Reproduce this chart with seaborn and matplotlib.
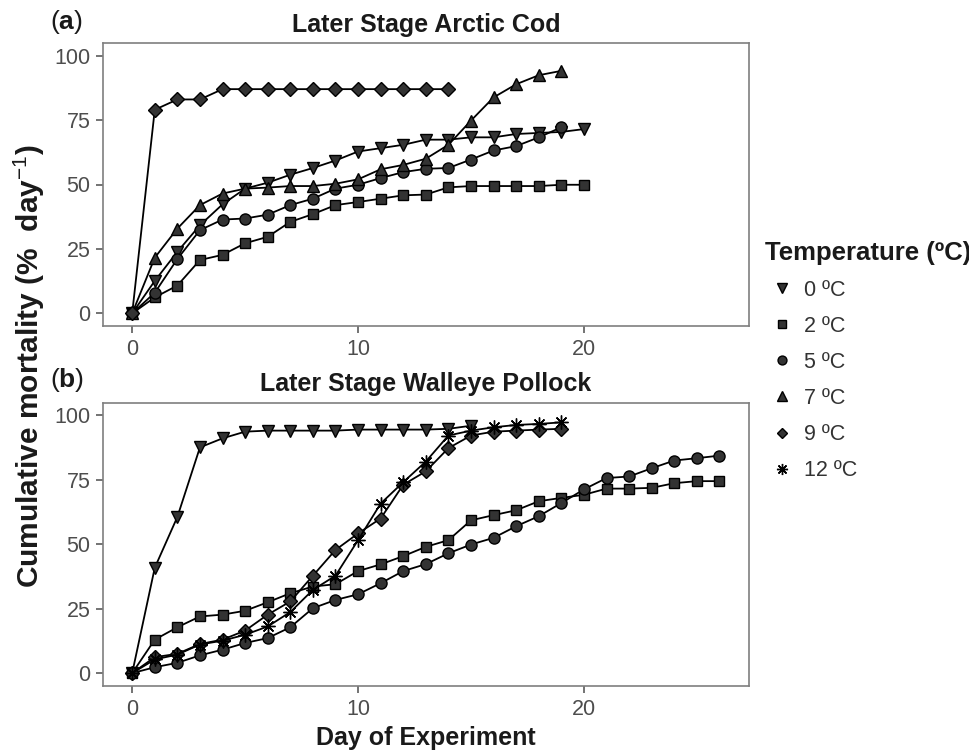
import numpy as np
import pandas as pd
import matplotlib
matplotlib.use("Agg")
import matplotlib.pyplot as plt
from matplotlib.lines import Line2D
import seaborn as sns

# cumulative mortality (%), one value per day from day 0
cod_0c = [0, 12.6, 23.9, 34.2, 42.3, 48.4, 50.7, 53.8, 56.4, 59.3, 62.8, 64.1, 65.4,
          67.4, 67.4, 68.3, 68.3, 69.6, 70.0, 70.4, 71.5]
cod_2c = [0, 6.2, 10.8, 20.7, 22.7, 27.2, 29.7, 35.5, 38.5, 42.0, 43.2, 44.5, 45.8,
          46.1, 48.9, 49.4, 49.4, 49.4, 49.4, 49.9, 49.9]
cod_5c = [0, 8.0, 21.1, 32.3, 36.4, 36.8, 38.3, 42.0, 44.5, 48.4, 49.9, 52.5, 54.8,
          56.1, 56.4, 59.7, 63.2, 64.9, 68.3, 72.2]
cod_7c = [0, 21.6, 32.9, 42.0, 46.5, 48.4, 48.8, 49.4, 49.4, 50.3, 52.0, 55.9, 57.6,
          60.0, 65.4, 74.8, 83.8, 88.9, 92.4, 94.1]
cod_9c = [0, 79, 83, 83, 87, 87, 87, 87, 87, 87, 87, 87, 87, 87, 87]

pol_0c = [0, 40.9, 60.6, 87.6, 91.1, 93.7, 94.1, 94.1, 94.1, 94.1, 94.5, 94.5, 94.5,
          94.5, 94.8, 96.0]
pol_2c = [0, 13.0, 17.8, 22.0, 22.7, 24.2, 27.5, 31.0, 33.6, 34.5, 39.6, 42.2, 45.4,
          49.0, 51.6, 59.3, 61.3, 63.2, 66.7, 68.0, 69.2, 71.6, 71.6, 71.9, 73.7, 74.5, 74.5]
pol_5c = [0, 2.3, 4.0, 6.9, 9.1, 11.7, 13.6, 17.8, 25.2, 28.4, 30.6, 34.9, 39.6,
          42.3, 46.5, 49.9, 52.5, 57.0, 60.9, 66.0, 71.3, 75.7, 76.3, 79.5, 82.5, 83.4, 84.4]
pol_9c = [0, 6.2, 7.5, 11.3, 13.0, 16.5, 22.7, 27.8, 37.8, 47.8, 54.2, 60.0, 73.1,
          78.3, 87.3, 92.2, 93.7, 94.1, 94.5, 94.8]
pol_12c = [0, 5.3, 7.2, 11.1, 12.6, 14.9, 18.1, 23.7, 32.3, 37.8, 51.6, 65.8, 74.1,
           82.1, 92.2, 94.1, 95.4, 96.3, 96.7, 97.3]

temps = ["0 ºC", "2 ºC", "5 ºC", "7 ºC", "9 ºC", "12 ºC"]
cod_series = [cod_0c, cod_2c, cod_5c, cod_7c, cod_9c, None]
pol_series = [pol_0c, pol_2c, pol_5c, None, pol_9c, pol_12c]
panel_titles = ["Later Stage Arctic Cod", "Later Stage Walleye Pollock"]
panel_tags = ["a", "b"]

markers = {"0 ºC": "v", "2 ºC": "s", "5 ºC": "o", "7 ºC": "^", "9 ºC": "D",
           "12 ºC": (8, 2, 0)}
msizes = {"0 ºC": 9, "2 ºC": 7, "5 ºC": 8, "7 ºC": 9, "9 ºC": 7, "12 ºC": 10}


def to_long(series):
    rows = []
    for t, vals in zip(temps, series):
        if vals is None:
            continue
        for d, v in enumerate(vals):
            rows.append((d, v, t))
    return pd.DataFrame(rows, columns=["day", "mortality", "temp"])


sns.set_style("ticks")
plt.rcParams["font.family"] = ["Liberation Sans", "DejaVu Sans"]
plt.rcParams["mathtext.fontset"] = "custom"
plt.rcParams["mathtext.rm"] = "Liberation Sans"
plt.rcParams["mathtext.it"] = "Liberation Sans:italic"
plt.rcParams["mathtext.bf"] = "Liberation Sans:bold"

fill = "#333333"
dark = "#1a1a1a"
fig = plt.figure(figsize=(9.7, 7.5), dpi=100)
ax_a = fig.add_axes([0.106, 0.565, 0.666, 0.378])
ax_b = fig.add_axes([0.106, 0.0853, 0.666, 0.378])

for ax, series, title in zip([ax_a, ax_b], [cod_series, pol_series], panel_titles):
    df = to_long(series)
    for t in df["temp"].unique():
        sub = df[df["temp"] == t]
        sns.lineplot(data=sub, x="day", y="mortality", ax=ax, color="black",
                     marker=markers[t], markersize=msizes[t], markerfacecolor=fill,
                     markeredgecolor="black", markeredgewidth=1.0, linewidth=1.3,
                     errorbar=None, sort=False, legend=False)
    ax.set_xlim(-1.3, 27.3)
    ax.set_ylim(-5, 105)
    ax.set_xticks([0, 10, 20])
    ax.set_yticks([0, 25, 50, 75, 100])
    ax.set_xlabel("")
    ax.set_ylabel("")
    ax.tick_params(labelsize=15.5, colors="#4d4d4d", length=5, width=1.1,
                   direction="out", pad=4)
    for sp in ax.spines.values():
        sp.set_color("#7f7f7f")
        sp.set_linewidth(1.2)
    ax.set_title(title, fontsize=18, fontweight="bold", color=dark, pad=8)

for tag, ypos in zip(panel_tags, [0.971, 0.493]):
    fig.text(0.052, ypos, r"($\mathbf{%s}$)" % tag, fontsize=19, color=dark,
             va="center")

ax_b.set_xlabel("Day of Experiment", fontsize=18, fontweight="bold",
                color=dark, labelpad=5)
fig.text(0.030, 0.512, r"Cumulative mortality (%  day$^{-1}$)", rotation=90,
         fontsize=21.5, fontweight="bold", color=dark, ha="center", va="center")

handles = [Line2D([], [], linestyle="none", marker=markers[t],
                  markersize=msizes[t] * 0.8, markerfacecolor=fill,
                  markeredgecolor="black", markeredgewidth=1.0) for t in temps]
leg = fig.legend(handles, temps, loc="upper left", bbox_to_anchor=(0.7887, 0.679),
                 frameon=False, fontsize=15.5, title="Temperature (ºC)",
                 title_fontproperties={"size": 18.5, "weight": "bold"},
                 alignment="left", handlelength=1.58, handletextpad=0.23,
                 labelspacing=0.7, borderpad=0, borderaxespad=0)
leg.get_title().set_color(dark)
for txt in leg.get_texts():
    txt.set_color("#333333")

fig.savefig("out.png", dpi=100)
